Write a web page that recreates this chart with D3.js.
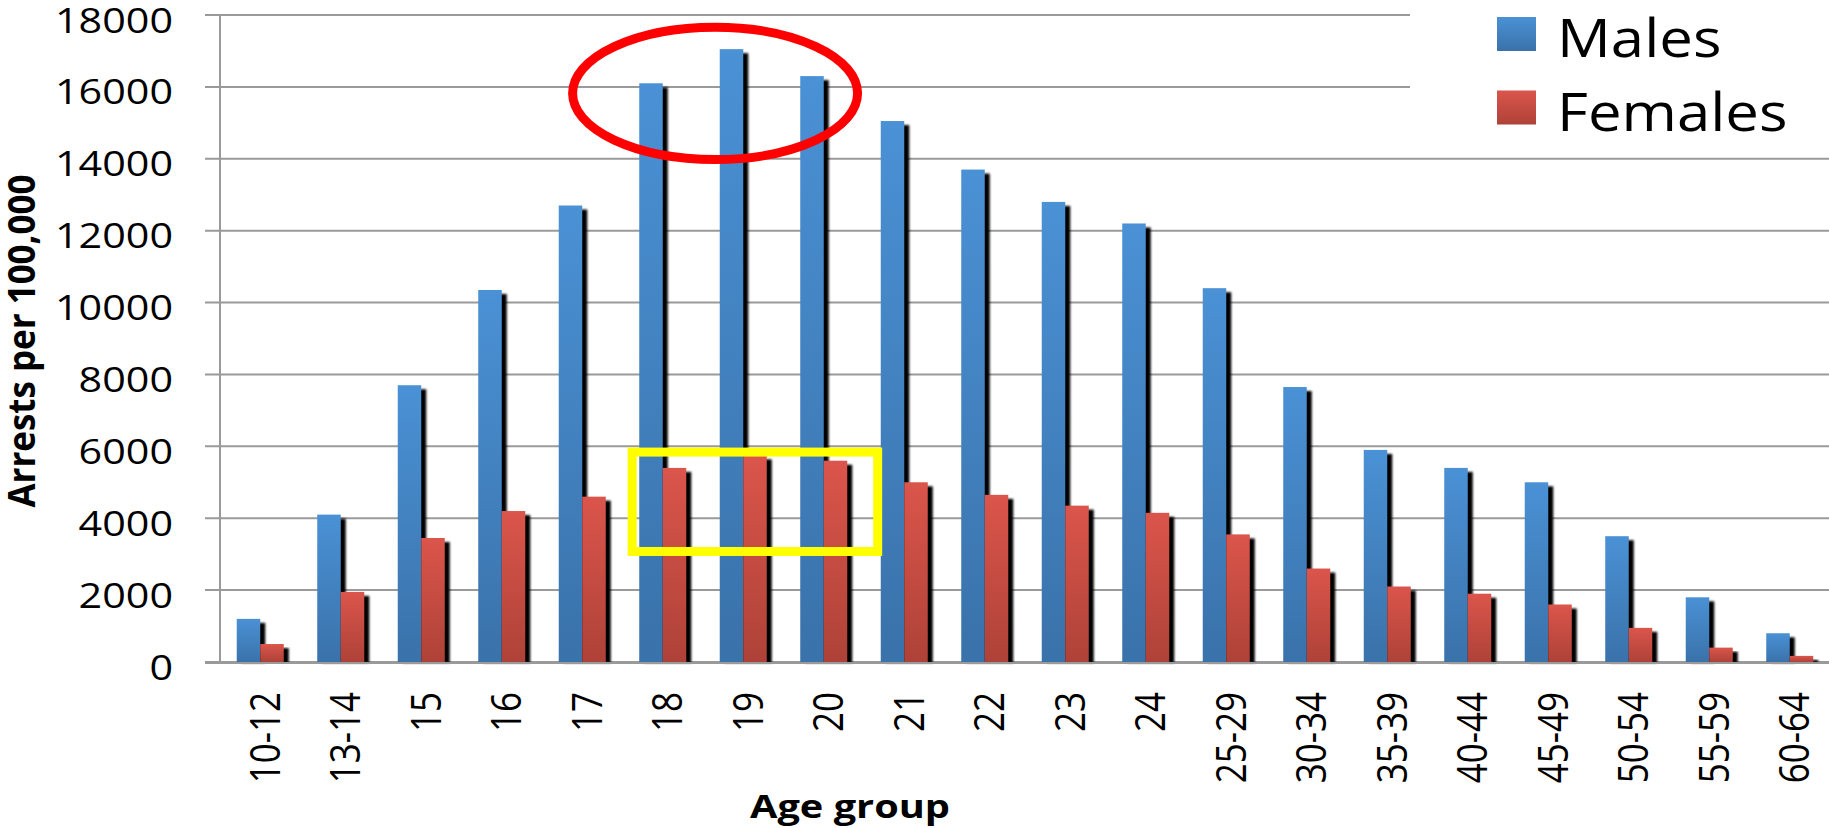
<!DOCTYPE html>
<html>
<head>
<meta charset="utf-8">
<script src="https://cdn.jsdelivr.net/npm/d3@7"></script>
<style>
    body { margin: 0; background: #fff; }
    text { font-family: "Open Sans", "Noto Sans", sans-serif; fill: #000; }
</style>
</head>
<body>
<script>
// data
var ageGroups = ["10-12", "13-14", "15", "16", "17", "18", "19", "20", "21", "22",
                 "23", "24", "25-29", "30-34", "35-39", "40-44", "45-49", "50-54", "55-59", "60-64"];
var males   = [1200, 4100, 7700, 10350, 12700, 16100, 17050, 16300, 15050, 13700,
               12800, 12200, 10400, 7650, 5900, 5400, 5000, 3500, 1800, 800];
var females = [500, 1950, 3450, 4200, 4600, 5400, 5750, 5600, 5000, 4650,
               4350, 4150, 3550, 2600, 2100, 1900, 1600, 950, 400, 170];
var seriesNames = ["Males", "Females"];
var yTicks = [0, 2000, 4000, 6000, 8000, 10000, 12000, 14000, 16000, 18000];

var width = 1829;
var height = 828;
var plot = {left: 220, right: 1830, top: 15, bottom: 662};
var sx = 1.18; // the original text is a bit stretched sideways

var colors = {
    Males:   ["#4a91d5", "#3a72aa"],
    Females: ["#db554b", "#ae4238"]
};

var table = ageGroups.map(function(g, i) {
    return {group: g, Males: males[i], Females: females[i]};
});

var svg = d3.select("body").append("svg")
    .attr("width", width)
    .attr("height", height);

var defs = svg.append("defs");
seriesNames.forEach(function(s) {
    var grad = defs.append("linearGradient")
        .attr("id", "grad-" + s)
        .attr("x1", 0).attr("y1", 0).attr("x2", 0).attr("y2", 1);
    grad.append("stop").attr("offset", "0%").attr("stop-color", colors[s][0]);
    grad.append("stop").attr("offset", "100%").attr("stop-color", colors[s][1]);
});
defs.append("filter").attr("id", "blur")
    .attr("x", "-20%").attr("y", "-5%").attr("width", "140%").attr("height", "110%")
    .append("feGaussianBlur").attr("stdDeviation", 1.1);

var x0 = d3.scaleBand()
    .domain(ageGroups)
    .range([plot.left, plot.right])
    .paddingInner(0.416)
    .paddingOuter(0.208);
var x1 = d3.scaleBand()
    .domain(seriesNames)
    .range([0, x0.bandwidth()]);
var y = d3.scaleLinear()
    .domain([0, 18000])
    .range([plot.bottom, plot.top]);
// index scale, for the hand-drawn highlights
var xi = d3.scaleLinear().domain([0, ageGroups.length]).range([plot.left, plot.right]);

// gridlines + y ticks
svg.append("g").selectAll("line")
    .data(yTicks)
    .enter().append("line")
    .attr("x1", plot.left - 15)
    .attr("x2", width)
    .attr("y1", function(d) { return y(d); })
    .attr("y2", function(d) { return y(d); })
    .attr("stroke", "#9a9a9a")
    .attr("stroke-width", 2);

svg.append("line")
    .attr("x1", plot.left).attr("x2", plot.left)
    .attr("y1", plot.top).attr("y2", plot.bottom)
    .attr("stroke", "#9a9a9a")
    .attr("stroke-width", 2);

svg.append("g").selectAll("text")
    .data(yTicks)
    .enter().append("text")
    .attr("transform", function(d) { return "translate(173," + (y(d) + 17.5) + ") scale(" + sx + ",1)"; })
    .attr("text-anchor", "end")
    .style("font-size", "35px")
    .text(function(d) { return d; });

// bars
var groups = svg.append("g").selectAll("g")
    .data(table)
    .enter().append("g")
    .attr("transform", function(d) { return "translate(" + x0(d.group) + ",0)"; });

seriesNames.forEach(function(s) {
    groups.append("rect")
        .attr("x", x1(s) + 5)
        .attr("y", function(d) { return y(d[s]) + 4; })
        .attr("width", x1.bandwidth())
        .attr("height", function(d) { return Math.max(0, plot.bottom - y(d[s]) - 3); })
        .attr("fill", "#000")
        .attr("filter", "url(#blur)");
    groups.append("rect")
        .attr("x", x1(s))
        .attr("y", function(d) { return y(d[s]); })
        .attr("width", x1.bandwidth())
        .attr("height", function(d) { return plot.bottom - y(d[s]); })
        .attr("fill", "url(#grad-" + s + ")");
});

// x axis line drawn over the shadows
svg.append("line")
    .attr("x1", plot.left - 15).attr("x2", width)
    .attr("y1", plot.bottom + 1).attr("y2", plot.bottom + 1)
    .attr("stroke", "#9a9a9a")
    .attr("stroke-width", 2);

svg.append("g").selectAll("text")
    .data(ageGroups)
    .enter().append("text")
    .attr("transform", function(d) {
        return "translate(" + (x0(d) + x0.bandwidth() / 2 + 5) + ",692) scale(" + (sx + 0.02) + ",1) rotate(-90)";
    })
    .attr("text-anchor", "end")
    .attr("dy", "0.35em")
    .style("font-size", "35px")
    .text(function(d) { return d; });

// axis titles
svg.append("text")
    .attr("transform", "translate(850,818)")
    .attr("text-anchor", "middle")
    .attr("textLength", 200)
    .attr("lengthAdjust", "spacingAndGlyphs")
    .style("font-size", "33px")
    .style("font-weight", "bold")
    .text("Age group");

svg.append("text")
    .attr("transform", "translate(35,341) scale(" + sx + ",1) rotate(-90)")
    .attr("text-anchor", "middle")
    .attr("textLength", 333)
    .attr("lengthAdjust", "spacingAndGlyphs")
    .style("font-size", "32px")
    .style("font-weight", "bold")
    .text("Arrests per 100,000");

// legend
var legend = svg.append("g");
legend.append("rect")
    .attr("x", 1410).attr("y", 0)
    .attr("width", width - 1410).attr("height", 148)
    .attr("fill", "#fff");
var items = legend.selectAll("g.item")
    .data(seriesNames)
    .enter().append("g")
    .attr("class", "item")
    .attr("transform", function(d, i) { return "translate(1497," + (17 + i * 73.5) + ")"; });
items.append("rect")
    .attr("width", 39)
    .attr("height", 34)
    .attr("fill", function(d) { return "url(#grad-" + d + ")"; });
items.append("text")
    .attr("transform", "translate(60,40) scale(1.13,1)")
    .style("font-size", "53px")
    .text(function(d) { return d; });

// highlights
var peakRing = {cx: 6.15, rx: 1.77, cy: 15820, ry: 1840};
var femaleBox = {from: 5.12, to: 8.17, low: 3075, high: 5840};

svg.append("ellipse")
    .attr("cx", xi(peakRing.cx))
    .attr("cy", y(peakRing.cy))
    .attr("rx", xi(peakRing.rx) - xi(0))
    .attr("ry", y(0) - y(peakRing.ry))
    .attr("fill", "none")
    .attr("stroke", "#ff0000")
    .attr("stroke-width", 9);

svg.append("rect")
    .attr("x", xi(femaleBox.from))
    .attr("y", y(femaleBox.high))
    .attr("width", xi(femaleBox.to) - xi(femaleBox.from))
    .attr("height", y(femaleBox.low) - y(femaleBox.high))
    .attr("fill", "none")
    .attr("stroke", "#ffff00")
    .attr("stroke-width", 9);
</script>
</body>
</html>
